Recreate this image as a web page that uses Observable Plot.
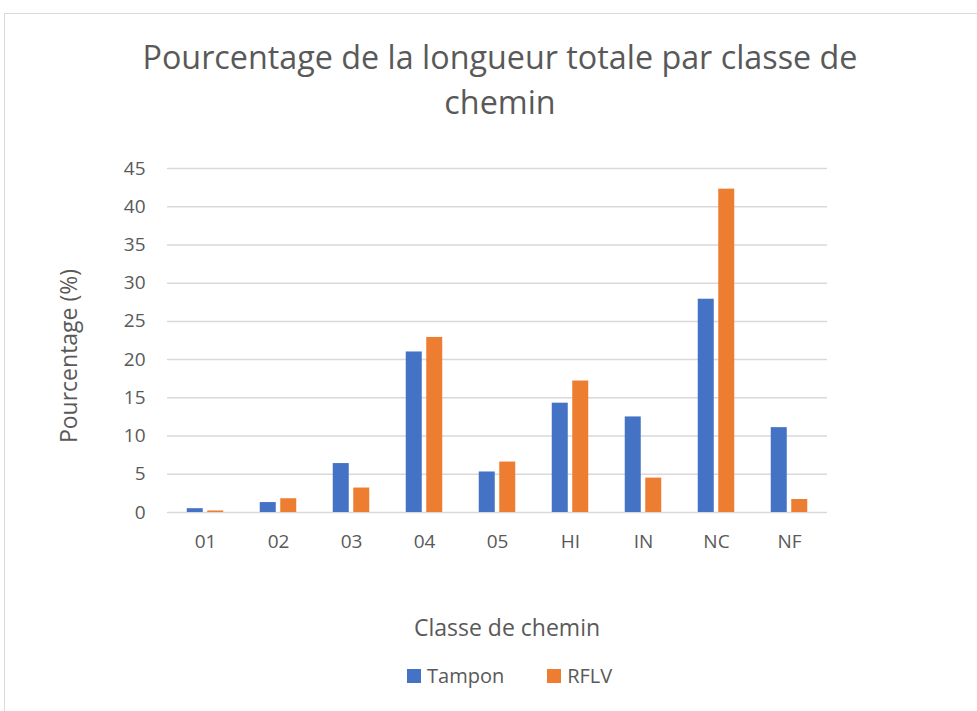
<!DOCTYPE html>
<html>
<head>
<meta charset="utf-8">
<script src="https://cdn.jsdelivr.net/npm/d3@7"></script>
<script src="https://cdn.jsdelivr.net/npm/@observablehq/plot@0.6"></script>
<style>
  html, body { margin: 0; padding: 0; background: #fff; }
  #wrap { position: relative; width: 977px; height: 711px; overflow: hidden; font-family: "Open Sans", sans-serif; color: #595959; }
  #frame { position: absolute; left: 4px; top: 13px; width: 990px; height: 720px; border: 1px solid #d9d9d9; box-sizing: border-box; }
  #title { position: absolute; left: 0; width: 1000px; top: 34px; text-align: center; font-size: 32.3px; line-height: 45px; }
  #chart { position: absolute; left: 0; top: 0; }
  #ylab { position: absolute; left: 68px; top: 356px; transform: translate(-50%, -50%) rotate(-90deg); font-size: 23px; white-space: nowrap; }
  #xlab { position: absolute; left: 507px; top: 627px; transform: translate(-50%, -50%); font-size: 23px; white-space: nowrap; }
  #legend { position: absolute; top: 662px; left: 407px; display: flex; align-items: center; font-size: 20px; }
  .sw { display: inline-block; width: 14px; height: 14px; margin-right: 6px; }
  .item { display: flex; align-items: center; margin-right: 43px; }
</style>
</head>
<body>
<div id="wrap">
  <div id="frame"></div>
  <div id="chart"></div>
  <div id="title">Pourcentage de la longueur totale par classe de<br>chemin</div>
  <div id="ylab">Pourcentage (%)</div>
  <div id="xlab">Classe de chemin</div>
  <div id="legend"></div>
</div>
<script>
const categories = ["01", "02", "03", "04", "05", "HI", "IN", "NC", "NF"];
const seriesNames = ["Tampon", "RFLV"];
const tampon = [0.5, 1.3, 6.4, 21.0, 5.3, 14.3, 12.5, 27.9, 11.1];
const rflv = [0.2, 1.8, 3.2, 22.9, 6.6, 17.2, 4.5, 42.3, 1.7];
const yTicks = [0, 5, 10, 15, 20, 25, 30, 35, 40, 45];
const colors = ["#4472c4", "#ed7d31"];

const tamponData = categories.map((c, i) => ({cat: c, series: seriesNames[0], value: tampon[i]}));
const rflvData = categories.map((c, i) => ({cat: c, series: seriesNames[1], value: rflv[i]}));

const chart = Plot.plot({
  width: 977,
  height: 711,
  marginLeft: 167,
  marginRight: 150,
  marginTop: 168,
  marginBottom: 199,
  style: {fontFamily: "'Open Sans', sans-serif", color: "#595959", background: "transparent"},
  x: {domain: categories, paddingInner: 0.775, paddingOuter: 0.3875, label: null},
  y: {domain: [0, 45], label: null},
  color: {domain: seriesNames, range: colors},
  marks: [
    Plot.ruleY(yTicks, {stroke: "#d9d9d9", strokeWidth: 1.5}),
    Plot.barY(tamponData, {x: "cat", y: "value", fill: "series", dx: -10.25}),
    Plot.barY(rflvData, {x: "cat", y: "value", fill: "series", dx: 10.25}),
    Plot.axisY(yTicks, {tickSize: 0, tickPadding: 22, fontSize: 19, label: null, fill: "#595959"}),
    Plot.axisX({tickSize: 0, tickPadding: 22, fontSize: 19, label: null, fill: "#595959"})
  ]
});
document.getElementById("chart").appendChild(chart);

const legend = document.getElementById("legend");
seriesNames.forEach((s, i) => {
  const item = document.createElement("div");
  item.className = "item";
  const sw = document.createElement("span");
  sw.className = "sw";
  sw.style.background = colors[i];
  item.appendChild(sw);
  item.appendChild(document.createTextNode(s));
  legend.appendChild(item);
});
</script>
</body>
</html>
